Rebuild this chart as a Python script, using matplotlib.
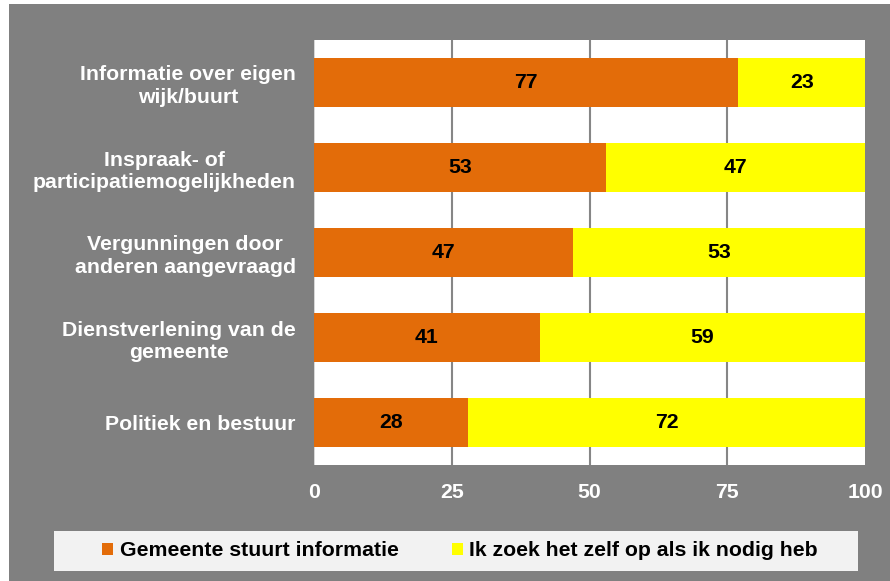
import matplotlib
matplotlib.use("Agg")
import matplotlib.pyplot as plt
from matplotlib.patches import Rectangle, Patch

categories = ["Informatie over eigen\nwijk/buurt",
              "Inspraak- of\nparticipatiemogelijkheden",
              "Vergunningen door\nanderen aangevraagd",
              "Dienstverlening van de\ngemeente",
              "Politiek en bestuur"]
gemeente = [77, 53, 47, 41, 28]
zelf = [23, 47, 53, 59, 72]
series_names = ["Gemeente stuurt informatie", "Ik zoek het zelf op als ik nodig heb"]
xticks = [0, 25, 50, 75, 100]

ORANGE = "#E36C09"
YELLOW = "#FFFF00"
GRAY = "#808080"
FS = 15.3

plt.rcParams['font.family'] = ['Liberation Sans', 'DejaVu Sans']
W, H = 890, 581
fig = plt.figure(figsize=(W/100, H/100), dpi=100, facecolor="white")
fig.patches.append(Rectangle((9/W, 0), (W-9)/W, (H-4)/H, transform=fig.transFigure,
                             facecolor=GRAY, edgecolor="none", zorder=-5))

ax = fig.add_axes([314/W, (H-465)/H, (865-314)/W, (465-40)/H])
ax.set_zorder(2)
ax.set_facecolor("white")
y = list(range(len(categories)))
bh = 0.565
ax.barh(y, gemeente, height=bh, color=ORANGE, zorder=3)
ax.barh(y, zelf, left=gemeente, height=bh, color=YELLOW, zorder=3)
for i in y:
    ax.text(gemeente[i]/2, i, str(gemeente[i]), ha="center", va="center",
            fontsize=FS, fontweight="bold", color="black", zorder=4)
    ax.text(gemeente[i] + zelf[i]/2, i, str(zelf[i]), ha="center", va="center",
            fontsize=FS, fontweight="bold", color="black", zorder=4)

ax.set_xlim(0, 100)
ax.set_ylim(len(categories)-0.5, -0.5)
ax.set_xticks(xticks)
ax.set_xticklabels([str(t) for t in xticks])
ax.set_yticks(y)
ax.set_yticklabels(categories, linespacing=1.25)
ax.tick_params(axis="both", length=0, colors="white", labelsize=FS)
for lab in ax.get_xticklabels() + ax.get_yticklabels():
    lab.set_fontweight("bold")
for lab in ax.get_yticklabels():
    lab.set_horizontalalignment("right")
    lab.set_multialignment("center")
ax.tick_params(axis="y", pad=13)
ax.tick_params(axis="x", pad=12.7)
for t in xticks[1:-1]:
    ax.axvline(t, color="#868686", linewidth=1.5, zorder=1)
for s in ax.spines.values():
    s.set_visible(False)
ax.axvline(0, color="#d0d0d0", linewidth=1.2, zorder=2)

# legend background
fig.patches.append(Rectangle((54/W, (H-571)/H), (858-54)/W, 40/H, transform=fig.transFigure,
                             facecolor="#F2F2F2", edgecolor="none", zorder=-4))
handles = [Patch(facecolor=ORANGE, edgecolor="none"), Patch(facecolor=YELLOW, edgecolor="none")]
leg = fig.legend(handles, series_names, loc="center", bbox_to_anchor=(460/W, (H-551)/H),
                 ncol=2, frameon=False, prop={"weight": "bold", "size": FS},
                 handlelength=0.52, handleheight=0.52, handletextpad=0.3, columnspacing=2.5)
for t in leg.get_texts():
    t.set_color("black")

fig.savefig("out.png", dpi=100, facecolor=fig.get_facecolor())
